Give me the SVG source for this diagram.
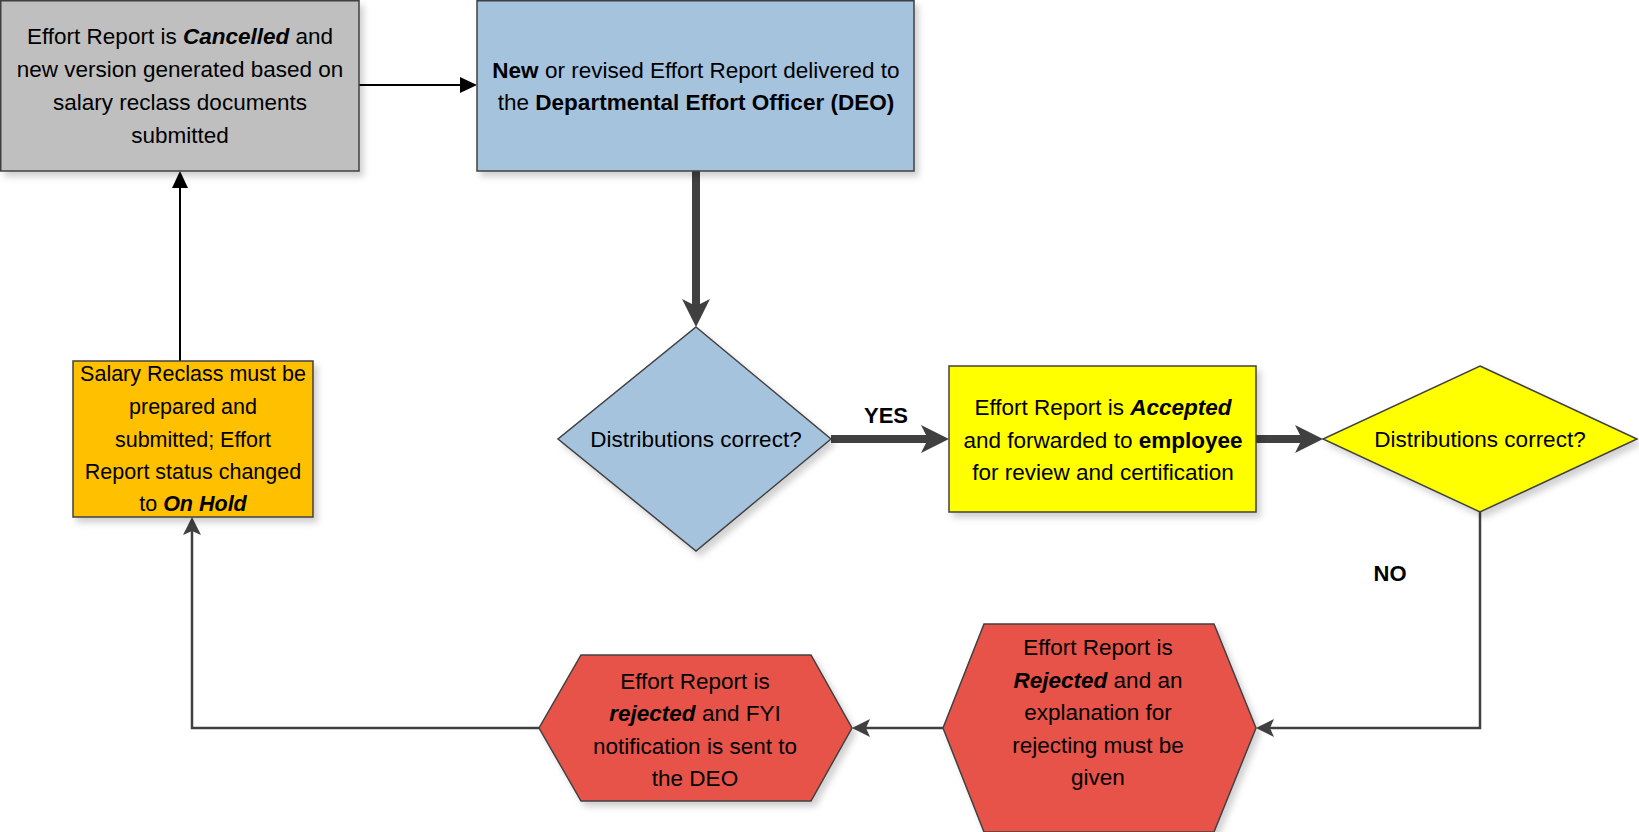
<svg xmlns="http://www.w3.org/2000/svg" width="1639" height="832" viewBox="0 0 1639 832">
<style>
text{font-family:"Liberation Sans",Arial,sans-serif;font-size:22.5px;fill:#000;text-anchor:middle}
.b{font-weight:bold}
.bi{font-weight:bold;font-style:italic}
.node{stroke:#404040;stroke-width:1.5;filter:url(#sh)}
.thick{fill:none;stroke:#404040;stroke-width:8}
.thin{fill:none;stroke:#404040;stroke-width:2.5}
.blk{fill:none;stroke:#000;stroke-width:2}
.lbl{font-weight:bold;font-size:22px}
.sm{font-size:21.5px}
</style>
<defs>
<filter id="sh" x="-10%" y="-10%" width="130%" height="130%">
<feDropShadow dx="4" dy="5" stdDeviation="3" flood-color="#000" flood-opacity="0.18"/>
</filter>
<marker id="ahThick" markerUnits="userSpaceOnUse" viewBox="0 0 28 28" markerWidth="28" markerHeight="28" refX="10" refY="14" orient="auto">
<path d="M0,0 L28,14 L0,28 L7,14 Z" fill="#404040"/>
</marker>
<marker id="ahThin" markerUnits="userSpaceOnUse" viewBox="0 0 18 18" markerWidth="18" markerHeight="18" refX="6" refY="9" orient="auto">
<path d="M0,0 L18,9 L0,18 L4,9 Z" fill="#404040"/>
</marker>
<marker id="ahBlk" markerUnits="userSpaceOnUse" viewBox="0 0 17 16" markerWidth="17" markerHeight="16" refX="5" refY="8" orient="auto">
<path d="M0,0 L17,8 L0,16 Z" fill="#000"/>
</marker>
</defs>
<rect width="1639" height="832" fill="#fff"/>

<g id="connectors">
<path class="blk" d="M359,85 L465,85" marker-end="url(#ahBlk)"/>
<path class="blk" d="M180,361 L180,183" marker-end="url(#ahBlk)"/>
<path class="thick" d="M696,171 L696,309" stroke-linecap="round" marker-end="url(#ahThick)"/>
<path class="thick" d="M831,439 L931,439" marker-end="url(#ahThick)"/>
<path class="thick" d="M1256,439 L1305,439" stroke-linecap="round" marker-end="url(#ahThick)"/>
<path class="thin" d="M1480,512 L1480,728 L1268,728" marker-end="url(#ahThin)"/>
<path class="thin" d="M943,728 L864,728" marker-end="url(#ahThin)"/>
<path class="thin" d="M539,728 L192,728 L192,529" marker-end="url(#ahThin)"/>
<text class="lbl" x="886" y="423">YES</text>
<text class="lbl" x="1390" y="581">NO</text>
</g>

<g id="cancelled">
<rect class="node" x="0.75" y="0.75" width="358.25" height="170.25" fill="#BFBFBF"/>
<text x="180" y="44">Effort Report is <tspan class="bi">Cancelled</tspan> and</text>
<text x="180" y="77">new version generated based on</text>
<text x="180" y="110">salary reclass documents</text>
<text x="180" y="143">submitted</text>
</g>

<g id="delivered">
<rect class="node" x="477" y="0.75" width="437" height="170.25" fill="#A6C3DE"/>
<text x="696" y="78"><tspan class="b">New</tspan> or revised Effort Report delivered to</text>
<text x="696" y="110">the <tspan class="b">Departmental Effort Officer (DEO)</tspan></text>
</g>

<g id="decision1">
<polygon class="node" points="696,327 831,439 696,551 558,439" fill="#A6C3DE"/>
<text x="696" y="447">Distributions correct?</text>
</g>

<g id="accepted">
<rect class="node" x="949" y="366" width="307" height="146" fill="#FFFF00"/>
<text x="1103" y="415">Effort Report is <tspan class="bi">Accepted</tspan></text>
<text x="1103" y="448">and forwarded to <tspan class="b">employee</tspan></text>
<text x="1103" y="480">for review and certification</text>
</g>

<g id="decision2">
<polygon class="node" points="1480,366 1637,439 1480,512 1323,439" fill="#FFFF00"/>
<text x="1480" y="447">Distributions correct?</text>
</g>

<g id="rejected">
<polygon class="node" points="984,624 1214,624 1256,728 1214,832 984,832 943,728" fill="#E8534A"/>
<text x="1098" y="655">Effort Report is</text>
<text x="1098" y="688"><tspan class="bi">Rejected</tspan> and an</text>
<text x="1098" y="720">explanation for</text>
<text x="1098" y="753">rejecting must be</text>
<text x="1098" y="785">given</text>
</g>

<g id="fyi">
<polygon class="node" points="581,655 811,655 852,728 811,801 581,801 539,728" fill="#E8534A"/>
<text x="695" y="689">Effort Report is</text>
<text x="695" y="721"><tspan class="bi">rejected</tspan> and FYI</text>
<text x="695" y="754">notification is sent to</text>
<text x="695" y="786">the DEO</text>
</g>

<g id="onhold">
<rect class="node" x="73" y="361" width="240" height="156" fill="#FFC000"/>
<text class="sm" x="193" y="381">Salary Reclass must be</text>
<text class="sm" x="193" y="414">prepared and</text>
<text class="sm" x="193" y="447">submitted; Effort</text>
<text class="sm" x="193" y="479">Report status changed</text>
<text class="sm" x="193" y="511">to <tspan class="bi">On Hold</tspan></text>
</g>
</svg>
